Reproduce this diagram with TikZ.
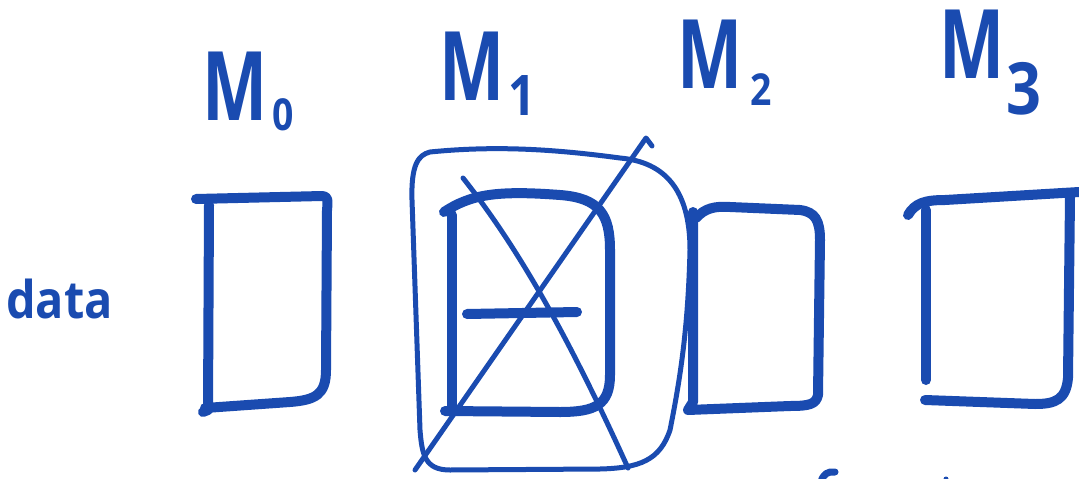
\documentclass[tikz,border=0pt]{standalone}
\usepackage{fontspec}
\setmainfont{Open Sans}
\definecolor{ink}{RGB}{26,75,176}
\begin{document}
\begin{tikzpicture}[x=1pt,y=-1pt,
  thick ink/.style={draw=ink,line width=10pt,line cap=round,line join=round},
  thin ink/.style={draw=ink,line width=5pt,line cap=round,line join=round},
  label M/.style={text=ink,font=\fontsize{96}{96}\selectfont\bfseries,inner sep=0pt,anchor=base west,xscale=0.72},
  label sub/.style={text=ink,inner sep=0pt,anchor=base west,xscale=0.85}]
\useasboundingbox (0,0) rectangle (1079,479);
% labels
\node[label M] (m0) at (202,120) {M};
\node[label sub,font=\fontsize{44}{44}\selectfont\bfseries] (m0s) at (272,130) {0};
\node[label M] (m1) at (439,100) {M};
\node[label sub,font=\fontsize{56}{56}\selectfont\bfseries] (m1s) at (508,115) {1};
\node[label M] (m2) at (677,88) {M};
\node[label sub,font=\fontsize{44}{44}\selectfont\bfseries] (m2s) at (750,105) {2};
\node[label M] (m3) at (939,78) {M};
\node[label sub,font=\fontsize{72}{72}\selectfont\bfseries] (m3s) at (1006,114) {3};
\node[text=ink,font=\fontsize{52}{52}\selectfont\bfseries,inner sep=0pt,anchor=base west,xscale=0.9] (data) at (6,318) {data};
% box 0
\draw[thick ink] (196,199) -- (322,196) .. controls (328,196) and (328,200) .. (327,210)
  -- (326,370) .. controls (326,395) and (315,400) .. (290,402) -- (205,408);
\draw[thick ink] (209,205) -- (208,410) -- (203,412);
% box 1 (inner D)
\draw[thick ink] (452,215) -- (452,410);
\draw[thick ink] (444,212) .. controls (470,195) and (495,190) .. (560,195)
  .. controls (600,198) and (610,215) .. (610,250) -- (610,375)
  .. controls (610,405) and (595,412) .. (560,412) -- (445,411);
\draw[thick ink] (467,314) -- (577,312);
% box 1 outer rounded frame
\draw[thin ink] (430,152) .. controls (500,145) and (560,150) .. (620,158)
  .. controls (665,162) and (690,190) .. (690,250)
  .. controls (688,330) and (680,380) .. (670,430)
  .. controls (660,460) and (640,468) .. (600,469)
  -- (450,470) .. controls (425,470) and (422,455) .. (420,430)
  -- (412,200) .. controls (411,165) and (418,155) .. (430,152);
% crossing lines
\draw[thin ink] (415,470) -- (646,138) -- (652,146);
\draw[thin ink] (463,178) .. controls (520,250) and (570,340) .. (628,468);
% box 2
\draw[thick ink] (693,212) -- (693,402) -- (688,410) -- (790,406);
\draw[thick ink] (696,218) .. controls (705,208) and (715,206) .. (730,207)
  -- (800,210) .. controls (815,212) and (820,220) .. (820,240)
  -- (818,395) .. controls (816,404) and (810,406) .. (790,406);
% box 3
\draw[thick ink] (926,210) -- (926,380);
\draw[thick ink] (908,215) .. controls (915,203) and (925,200) .. (945,200)
  -- (1079,192);
\draw[thick ink] (1070,197) -- (1068,378) .. controls (1066,400) and (1055,404) .. (1035,404)
  -- (925,400);
% stray marks
\draw[thin ink,line width=7pt] (821,482) .. controls (823,474) and (828,471) .. (835,472);
\fill[ink] (946,479) circle (2.5);
\end{tikzpicture}
\end{document}
